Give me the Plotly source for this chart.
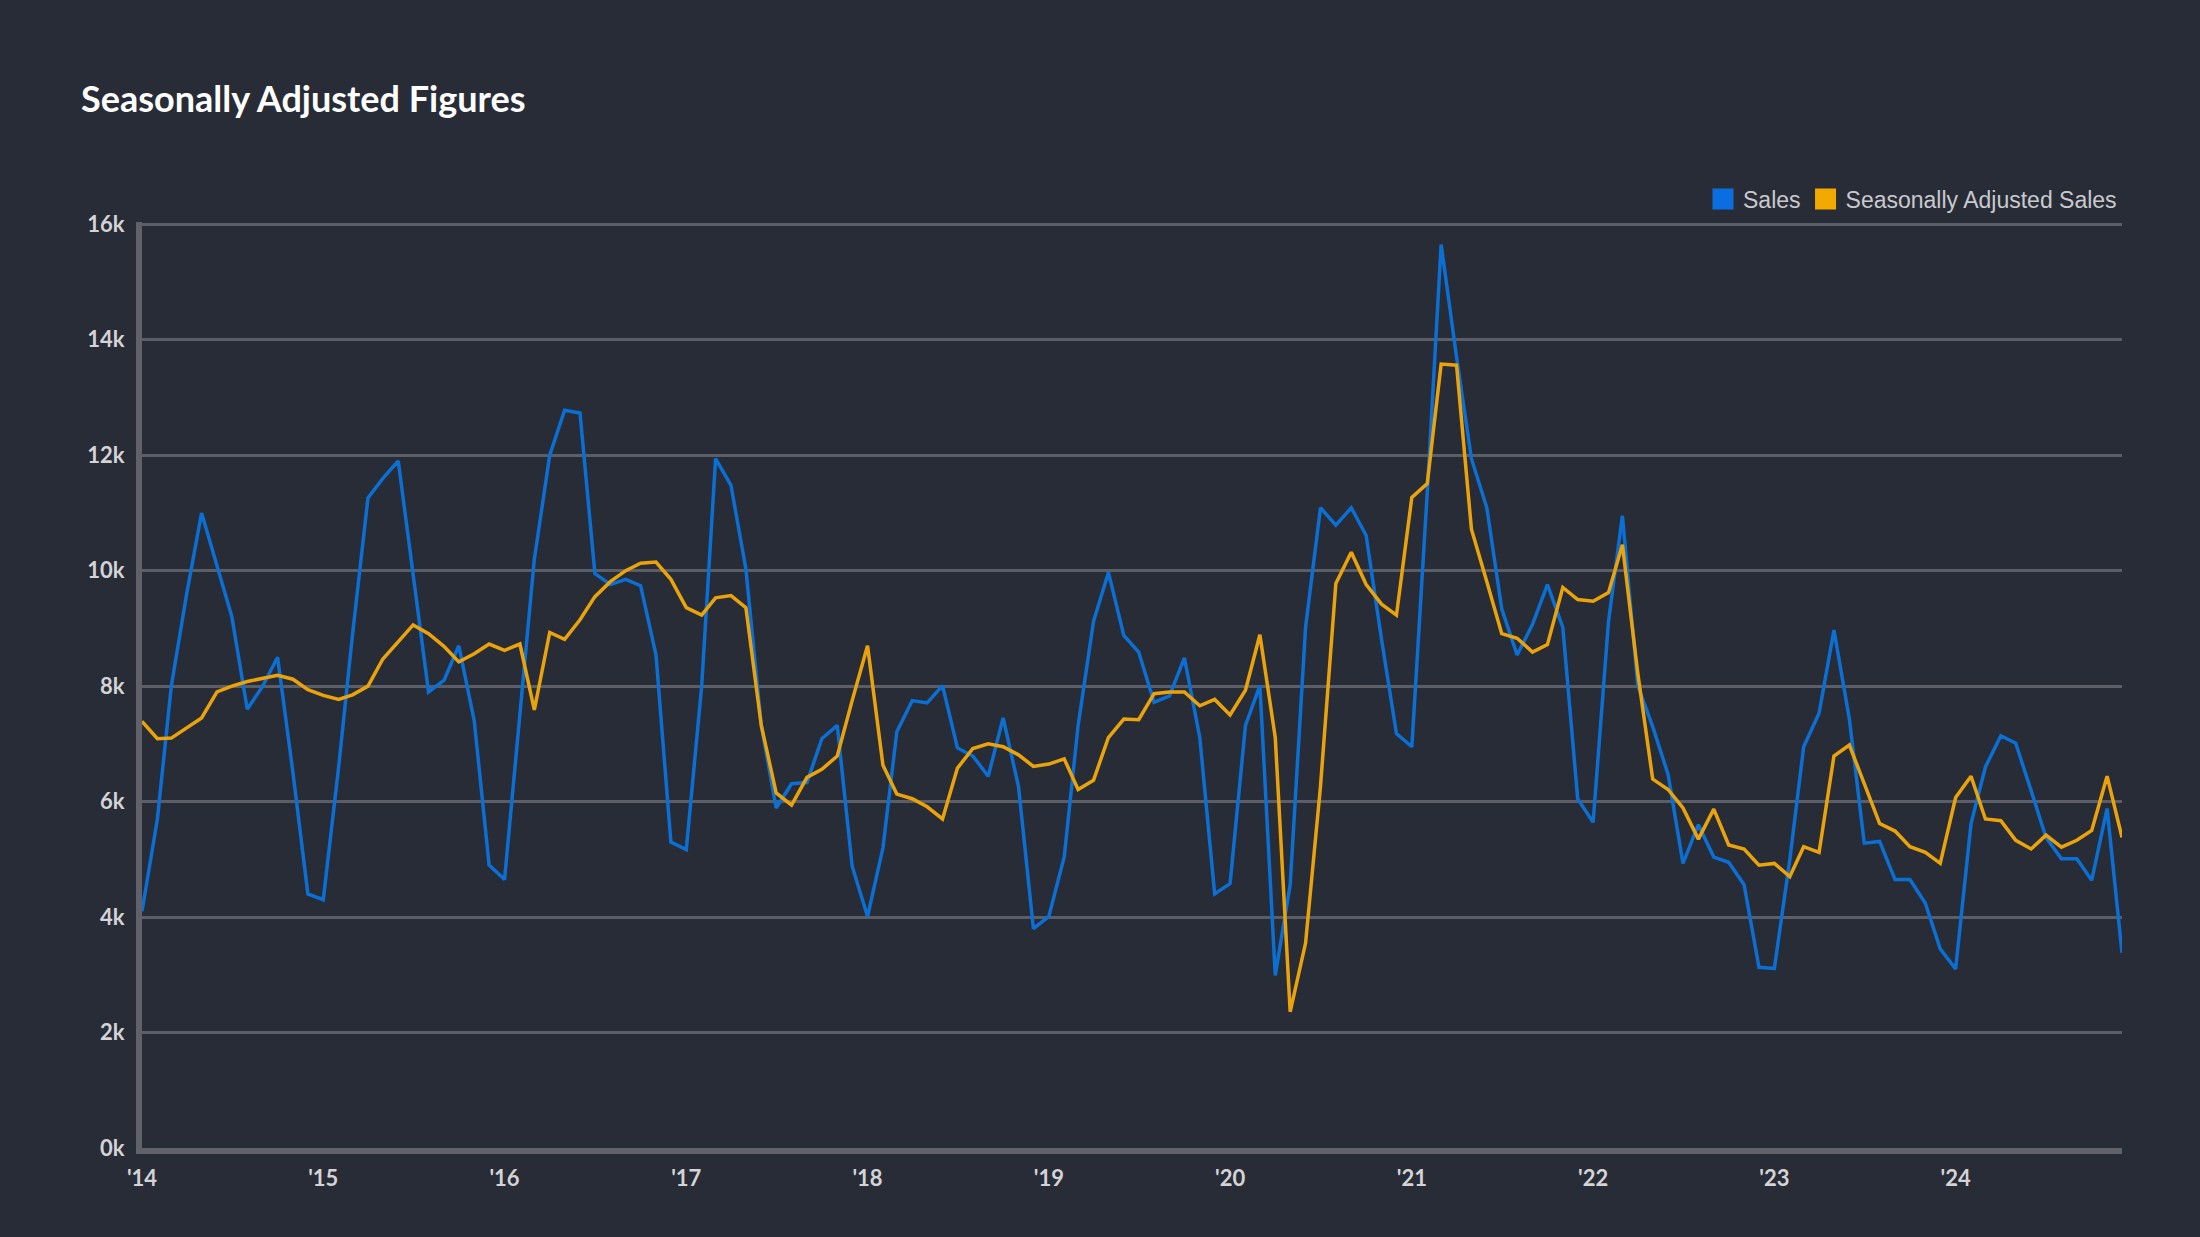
import pandas as pd
import plotly.graph_objects as go

# Monthly data, Jan 2014 - Dec 2024
months = pd.date_range("2014-01-01", periods=132, freq="MS")

sales = [
    # 2014
    4100, 5700, 8000, 9600, 11000, 10100, 9200, 7600, 8000, 8500, 6500, 4400,
    # 2015
    4300, 6600, 8900, 11260, 11600, 11900, 9900, 7900, 8100, 8700, 7400, 4900,
    # 2016
    4650, 7600, 10200, 12000, 12780, 12730, 9950, 9760, 9850, 9740, 8540, 5300,
    # 2017
    5170, 8000, 11940, 11480, 10030, 7320, 5890, 6310, 6330, 7090, 7320, 4880,
    # 2018
    4010, 5200, 7210, 7750, 7710, 8010, 6930, 6790, 6440, 7450, 6260, 3800,
    # 2019
    4010, 5040, 7320, 9120, 9970, 8880, 8590, 7720, 7830, 8490, 7110, 4400,
    # 2020
    4580, 7320, 8010, 2990, 4560, 9020, 11090, 10790, 11090, 10610, 8810, 7180,
    # 2021
    6950, 11350, 15650, 13700, 11940, 11090, 9340, 8540, 9070, 9760, 9020, 6050,
    # 2022
    5640, 9120, 10950, 8010, 7300, 6470, 4930, 5600, 5040, 4950, 4560, 3130,
    # 2023
    3110, 4990, 6950, 7530, 8970, 7430, 5280, 5310, 4650, 4650, 4240, 3450,
    # 2024
    3100, 5620, 6600, 7140, 7010, 6190, 5380, 5010, 5010, 4640, 5880, 3380,
]

seasonally_adjusted = [
    # 2014
    7390, 7090, 7100, 7270, 7450, 7900, 8000, 8080, 8140, 8190, 8120, 7940,
    # 2015
    7840, 7770, 7850, 8000, 8470, 8770, 9060, 8910, 8690, 8420, 8560, 8730,
    # 2016
    8620, 8730, 7590, 8930, 8810, 9150, 9550, 9810, 10000, 10130, 10150, 9850,
    # 2017
    9360, 9230, 9530, 9570, 9360, 7320, 6150, 5940, 6420, 6560, 6790, 7750,
    # 2018
    8700, 6630, 6130, 6050, 5910, 5700, 6580, 6920, 7000, 6950, 6810, 6610,
    # 2019
    6650, 6740, 6210, 6370, 7110, 7430, 7420, 7870, 7900, 7900, 7660, 7770,
    # 2020
    7500, 7930, 8890, 7110, 2360, 3550, 6260, 9780, 10320, 9760, 9420, 9230,
    # 2021
    11270, 11510, 13580, 13560, 10720, 9810, 8910, 8830, 8590, 8720, 9710, 9500,
    # 2022
    9470, 9620, 10450, 8220, 6390, 6210, 5890, 5350, 5870, 5250, 5180, 4900,
    # 2023
    4930, 4700, 5220, 5120, 6790, 6980, 6310, 5620, 5490, 5220, 5120, 4930,
    # 2024
    6070, 6440, 5700, 5670, 5330, 5180, 5420, 5210, 5330, 5500, 6440, 5380,
]

x_tick_vals = pd.date_range("2014-01-01", "2024-01-01", freq="YS")
x_tick_text = ["'14", "'15", "'16", "'17", "'18", "'19", "'20", "'21", "'22", "'23", "'24"]
y_tick_vals = [0, 2000, 4000, 6000, 8000, 10000, 12000, 14000, 16000]
y_tick_text = ["0k", "2k", "4k", "6k", "8k", "10k", "12k", "14k", "16k"]

BG = "#282c37"
BLUE = "#0b6fd3"
ORANGE = "#eba30c"

fig = go.Figure()
fig.add_trace(go.Scatter(x=months, y=sales, mode="lines", name="Sales",
                         line=dict(color=BLUE, width=3.5), showlegend=False))
fig.add_trace(go.Scatter(x=months, y=seasonally_adjusted, mode="lines",
                         name="Seasonally Adjusted Sales",
                         line=dict(color=ORANGE, width=3.5), showlegend=False))
# legend entries with square swatches
fig.add_trace(go.Scatter(x=[None], y=[None], mode="markers", name="Sales",
                         marker=dict(symbol="square", size=16, color="#0a6ee0",
                                     line=dict(color="#0a6ee0", width=5))))
fig.add_trace(go.Scatter(x=[None], y=[None], mode="markers", name="Seasonally Adjusted Sales",
                         marker=dict(symbol="square", size=16, color="#f2a900",
                                     line=dict(color="#f2a900", width=5))))

fig.update_layout(
    width=2200, height=1237,
    paper_bgcolor=BG, plot_bgcolor=BG,
    margin=dict(l=142, r=78, t=222, b=89, autoexpand=False),
    title=dict(text="<b>Seasonally Adjusted Figures</b>", x=81 / 2200, xanchor="left",
               y=1 - 99 / 1237, yanchor="middle",
               font=dict(family="Lato", size=36, color="#ffffff", weight=900)),
    legend=dict(orientation="h", xanchor="right", x=1.0, yref="container",
                y=1 - 199 / 1237, yanchor="middle", bgcolor="rgba(0,0,0,0)",
                font=dict(family="Liberation Sans", size=23, color="#c9cacd"),
                itemwidth=30, tracegroupgap=0),
    showlegend=True,
)
fig.update_xaxes(
    range=[months[0], months[-1]], tickvals=x_tick_vals, ticktext=x_tick_text,
    showgrid=False, zeroline=False, showline=True, linecolor="#616269", linewidth=6,
    ticks="", ticklabelstandoff=6,
    tickfont=dict(family="Lato", size=22, color="#d4d4d6", weight="bold"),
)
fig.update_yaxes(
    range=[0, 16040], tickvals=y_tick_vals, ticktext=y_tick_text,
    showgrid=True, gridcolor="#5b5e66", gridwidth=2.5, zeroline=False,
    showline=True, linecolor="#616269", linewidth=6,
    ticks="", ticklabelstandoff=7,
    tickfont=dict(family="Lato", size=22, color="#d4d4d6", weight="bold"),
)

fig.write_html(
    "out.html",
    config={"displayModeBar": False},
    post_script="document.body.style.margin='0';document.body.style.background='#282c37';",
)
